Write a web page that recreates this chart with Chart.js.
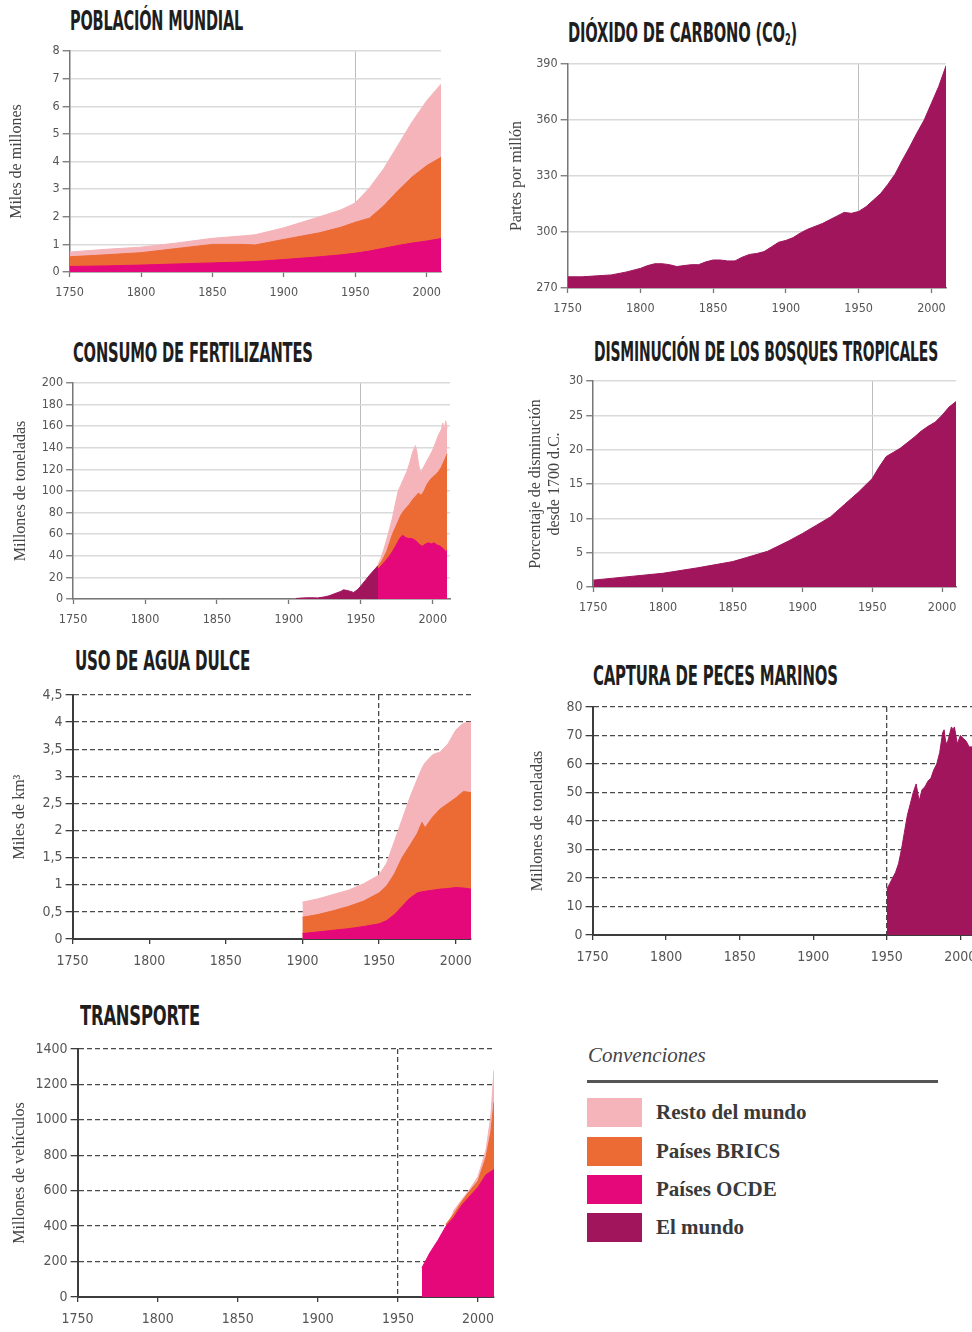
<!DOCTYPE html>
<html><head><meta charset="utf-8">
<script src="https://cdn.jsdelivr.net/npm/chart.js@4.4.1/dist/chart.umd.min.js"></script>
<style>
html,body{margin:0;padding:0;background:#fff;width:972px;height:1332px;overflow:hidden;position:relative}
.t{position:absolute;font-family:"Liberation Sans Narrow","DejaVu Sans Condensed",sans-serif;font-weight:bold;font-size:27px;line-height:27px;color:#1e1e1e;white-space:nowrap;transform-origin:0 0;letter-spacing:-0.3px}
.t sub{font-size:15px;line-height:0;vertical-align:-3px}
canvas{position:absolute}
#conv{position:absolute;left:588px;top:1045px;font-family:"Liberation Serif","DejaVu Serif",serif;font-style:italic;font-size:21px;line-height:21px;color:#444}
#rule{position:absolute;left:587px;top:1080px;width:351px;height:3px;background:#555}
.row{position:absolute;left:587px;height:29px;display:flex;align-items:center}
.sw{width:55px;height:29px;margin-right:14px}
.lt{font-family:"Liberation Serif","DejaVu Serif",serif;font-weight:bold;font-size:21px;color:#3a3a3a;white-space:nowrap}
</style></head>
<body>
<div class="t" data-w="173" style="left:70px;top:7px">POBLACIÓN MUNDIAL</div>
<div class="t" data-w="229" style="left:568px;top:19px">DIÓXIDO DE CARBONO (CO<sub>2</sub>)</div>
<div class="t" data-w="240" style="left:73px;top:339px">CONSUMO DE FERTILIZANTES</div>
<div class="t" data-w="344" style="left:594px;top:338px">DISMINUCIÓN DE LOS BOSQUES TROPICALES</div>
<div class="t" data-w="175" style="left:75px;top:647px">USO DE AGUA DULCE</div>
<div class="t" data-w="245" style="left:593px;top:662px">CAPTURA DE PECES MARINOS</div>
<div class="t" data-w="120" style="left:80px;top:1002px">TRANSPORTE</div>

<canvas id="c1"></canvas><canvas id="c2"></canvas><canvas id="c3"></canvas><canvas id="c4"></canvas>
<canvas id="c5"></canvas><canvas id="c6"></canvas><canvas id="c7"></canvas>

<div id="conv">Convenciones</div>
<div id="rule"></div>
<div id="legend"></div>

<script>
// ---------------- DATA ----------------
const xTicks = [1750, 1800, 1850, 1900, 1950, 2000];
const seriesNames = ['Resto del mundo', 'Países BRICS', 'Países OCDE', 'El mundo'];

// Población mundial (miles de millones) — cumulative tops
const popYears = [1750,1775,1800,1825,1850,1870,1880,1900,1925,1940,1950,1960,1970,1980,1990,2000,2010];
const popOCDE  = [0.20,0.22,0.25,0.29,0.33,0.36,0.38,0.45,0.55,0.62,0.68,0.76,0.86,0.96,1.05,1.12,1.21];
const popBRICS = [0.55,0.62,0.70,0.85,1.00,1.00,0.98,1.18,1.42,1.62,1.80,1.95,2.40,2.95,3.45,3.85,4.15];
const popResto = [0.72,0.82,0.90,1.05,1.22,1.30,1.35,1.60,2.00,2.25,2.50,3.05,3.75,4.60,5.45,6.20,6.80];
const popTicks = [0,1,2,3,4,5,6,7,8];

// Dióxido de carbono (ppm)
const co2Years = [1750,1760,1770,1780,1790,1800,1805,1810,1815,1820,1825,1830,1835,1840,1845,1850,1855,1860,1865,1870,1875,1880,1885,1890,1895,1900,1905,1910,1915,1920,1925,1930,1935,1940,1945,1950,1955,1960,1965,1970,1975,1980,1985,1990,1995,2000,2005,2010];
const co2World = [276,276,276.5,277,278.5,280.5,282,283,283,282.5,281.5,282,282.5,282.5,284,285,285,284.5,284.5,286.5,288,288.5,289.5,292,294.5,295.5,297,299.5,301.5,303,304.5,306.5,308.5,310.5,310,311,313.5,317,320.5,325.5,331,338.5,345.5,353,360,369,378,389];
const co2Ticks = [270,300,330,360,390];

// Consumo de fertilizantes (millones de toneladas) — cumulative tops
const fertMundoYears = [1905,1910,1915,1920,1925,1928,1930,1933,1936,1938,1940,1943,1945,1948,1950,1953,1956,1958,1960,1962];
const fertMundo      = [0.5,1,1.2,1,2,3,4,5.5,7,8.5,8,7,6,9,12,17,22,25,28,31];
const fertOCDEYears  = [1955,1958,1960,1963,1965,1967,1970,1972,1975,1977,1979,1981,1983,1985,1987,1989,1991,1993,1995,1997,1999,2001,2003,2005,2007,2009,2010];
const fertOCDE       = [18,23,26,29,32,35,40,44,51,56,59,57,56,56,55,53,50,49,51,52,51,52,50,49,47,44,45];
const fertBRICSYears = [1962,1965,1968,1970,1972,1974,1976,1978,1980,1982,1984,1986,1988,1990,1992,1994,1996,1998,2000,2002,2004,2006,2008,2010];
const fertBRICS      = [30,36,44,52,60,66,72,78,82,85,88,92,95,98,96,100,106,110,113,115,118,122,128,134];
const fertRestoYears = [1962,1964,1966,1968,1970,1972,1974,1976,1978,1980,1982,1984,1986,1988,1989,1990,1991,1992,1994,1996,1998,2000,2002,2004,2006,2007,2008,2009,2010];
const fertResto      = [32,38,46,55,65,75,88,100,106,112,118,126,136,142,136,126,119,118,123,128,133,138,145,152,157,163,156,165,158];
const fertTicks = [0,20,40,60,80,100,120,140,160,180,200];

// Disminución de los bosques tropicales (%)
const forYears = [1750,1775,1800,1825,1850,1860,1875,1890,1900,1910,1920,1930,1940,1950,1955,1960,1965,1970,1975,1980,1985,1990,1995,2000,2005,2010];
const forWorld = [1.0,1.5,2.0,2.8,3.7,4.3,5.2,6.7,7.8,9.0,10.2,12.0,13.8,15.8,17.5,19.0,19.6,20.2,21.0,21.8,22.7,23.4,24.0,25.0,26.2,27.0];
const forTicks = [0,5,10,15,20,25,30];

// Uso de agua dulce (miles de km³) — cumulative tops
const watYears = [1900,1910,1920,1930,1940,1950,1955,1960,1965,1970,1975,1978,1980,1985,1990,1995,2000,2005,2010];
const watOCDE  = [0.10,0.13,0.16,0.19,0.23,0.28,0.34,0.45,0.60,0.75,0.85,0.87,0.88,0.90,0.92,0.93,0.95,0.94,0.92];
const watBRICS = [0.40,0.45,0.52,0.60,0.70,0.85,0.98,1.20,1.50,1.72,1.95,2.15,2.05,2.25,2.40,2.50,2.60,2.72,2.70];
const watResto = [0.68,0.74,0.82,0.90,1.02,1.18,1.40,1.80,2.20,2.60,2.95,3.15,3.25,3.40,3.45,3.60,3.85,3.98,4.00];
const watTicks = [0,0.5,1,1.5,2,2.5,3,3.5,4,4.5];

// Captura de peces marinos (millones de toneladas)
const fishYears = [1950,1952,1954,1956,1958,1960,1962,1964,1966,1968,1970,1971,1972,1974,1976,1978,1980,1982,1984,1986,1988,1989,1990,1991,1992,1994,1995,1996,1998,2000,2002,2004,2006,2008,2010];
const fishWorld = [16,18,20,22,25,30,36,42,46,50,53,50,47,51,52,54,55,58,60,64,71,72,68,67,69,73,72,73,67,70,69,68,66,66,65];
const fishTicks = [0,10,20,30,40,50,60,70,80];

// Transporte (millones de vehículos) — cumulative tops
const trOCDEYears  = [1965,1970,1975,1980,1985,1990,1995,2000,2005,2010];
const trOCDE       = [165,250,320,400,450,520,570,620,690,720];
const trBRICSYears = [1980,1985,1990,1995,2000,2005,2008,2010];
const trBRICS      = [410,470,540,600,655,790,930,1100];
const trRestoYears = [1983,1985,1990,1995,2000,2005,2008,2010];
const trResto      = [440,490,550,610,680,830,1020,1280];
const trTicks = [0,200,400,600,800,1000,1200,1400];

// ---------------- STYLE ----------------
const COL = {resto:'#f5b4b9', brics:'#ec6a34', ocde:'#e5087b', mundo:'#a0155c'};
const TF = '"Liberation Sans Narrow","DejaVu Sans Condensed",sans-serif';
const SF = '"Liberation Serif","DejaVu Serif",serif';

const pts = (xs, ys) => xs.map((x, i) => ({x: x, y: ys[i]}));
const ds = (xs, ys, c) => ({data: pts(xs, ys), backgroundColor: c, borderColor: c, borderWidth: 1, fill: 'origin', pointRadius: 0, tension: 0});

function make(id, g, datasets, yMin, yMax, yTicks, yTitle, dashed, fmt) {
  const lh = 16 * 1.2;
  const nL = Array.isArray(yTitle) ? yTitle.length : 1;
  const padT = 13, padR = 18;
  const left = g.tx - lh * nL / 2;
  const top = g.T - padT;
  const yW = g.L - left;
  const xH = 36;
  const W = Math.round(g.R + padR - left), H = Math.round(g.B + xH - top);
  const cv = document.getElementById(id);
  cv.width = W; cv.height = H;
  cv.style.left = left + 'px'; cv.style.top = top + 'px';
  cv.style.width = W + 'px'; cv.style.height = H + 'px';
  const axisC = dashed ? '#3c3c3c' : '#777';
  const gridC = dashed ? '#4a4a4a' : '#dadada';
  const vC = dashed ? '#4a4a4a' : '#bdbdbd';
  const dash = dashed ? [5, 3] : [];
  const fs = dashed ? 14 : 12.5;
  new Chart(cv, {
    type: 'line',
    data: {datasets: datasets},
    options: {
      responsive: false, animation: false, devicePixelRatio: 1,
      layout: {padding: {top: padT, right: padR, left: 0, bottom: 0}},
      plugins: {legend: {display: false}, tooltip: {enabled: false}},
      scales: {
        x: {
          type: 'linear', min: 1750, max: g.xmax,
          afterBuildTicks: s => { s.ticks = xTicks.map(v => ({value: v})); },
          afterFit: s => { s.height = xH; },
          ticks: {padding: dashed ? 9 : 8, color: '#555', font: {family: TF, size: fs}, maxRotation: 0, autoSkip: false, callback: v => String(v)},
          grid: {color: c => (c.tick && c.tick.value === 1950) ? vC : 'rgba(0,0,0,0)', lineWidth: dashed ? 1.3 : 1, tickColor: axisC, tickLength: 5, tickWidth: 1.3},
          border: {display: true, color: axisC, width: dashed ? 2 : 1.5, dash: dash}
        },
        y: {
          min: yMin, max: yMax,
          afterBuildTicks: s => { s.ticks = yTicks.map(v => ({value: v})); },
          afterFit: s => { s.width = yW; },
          ticks: {padding: 3, color: '#555', font: {family: TF, size: fs}, callback: fmt || (v => String(v))},
          grid: {color: gridC, lineWidth: dashed ? 1.3 : 1.5, tickColor: axisC, tickLength: 7, tickWidth: 1.3},
          border: {display: true, color: axisC, width: dashed ? 2 : 1.5, dash: dash},
          title: {display: true, text: yTitle, color: '#444', font: {family: SF, size: 16}, padding: 0}
        }
      }
    }
  });
}

make('c1', {L:70, R:441, T:51, B:272, tx:17, xmax:2010}, [
  ds(popYears, popOCDE, COL.ocde), ds(popYears, popBRICS, COL.brics), ds(popYears, popResto, COL.resto)
], 0, 8, popTicks, 'Miles de millones', false);

make('c2', {L:568, R:946.6, T:64, B:288, tx:517, xmax:2010}, [
  ds(co2Years, co2World, COL.mundo)
], 270, 390, co2Ticks, 'Partes por millón', false);

make('c3', {L:73, R:450, T:383, B:599, tx:20.5, xmax:2012}, [
  ds(fertMundoYears, fertMundo, COL.mundo), ds(fertOCDEYears, fertOCDE, COL.ocde),
  ds(fertBRICSYears, fertBRICS, COL.brics), ds(fertRestoYears, fertResto, COL.resto)
], 0, 200, fertTicks, 'Millones de toneladas', false);

make('c4', {L:593, R:956, T:381, B:587, tx:545, xmax:2010}, [
  ds(forYears, forWorld, COL.mundo)
], 0, 30, forTicks, ['Porcentaje de disminución', 'desde 1700 d.C.'], false);

make('c5', {L:73, R:471, T:695, B:939, tx:20, xmax:2010}, [
  ds(watYears, watOCDE, COL.ocde), ds(watYears, watBRICS, COL.brics), ds(watYears, watResto, COL.resto)
], 0, 4.5, watTicks, 'Miles de km³', true, v => String(v).replace('.', ','));

make('c6', {L:593, R:975, T:707, B:935, tx:538, xmax:2010}, [
  ds(fishYears, fishWorld, COL.mundo)
], 0, 80, fishTicks, 'Millones de toneladas', true);

make('c7', {L:78, R:494, T:1049, B:1297, tx:20, xmax:2010}, [
  ds(trOCDEYears, trOCDE, COL.ocde), ds(trBRICSYears, trBRICS, COL.brics), ds(trRestoYears, trResto, COL.resto)
], 0, 1400, trTicks, 'Millones de vehículos', true);

// titles: condense to reference widths
document.querySelectorAll('.t').forEach(el => {
  const s = (+el.dataset.w) / el.offsetWidth;
  el.style.transform = 'scaleX(' + s + ')';
});

// legend
const legCols = [COL.resto, COL.brics, COL.ocde, COL.mundo];
const legTops = [1098, 1136.5, 1175, 1213];
const lg = document.getElementById('legend');
seriesNames.forEach((n, i) => {
  const r = document.createElement('div');
  r.className = 'row'; r.style.top = legTops[i] + 'px';
  r.innerHTML = '<div class="sw" style="background:' + legCols[i] + '"></div><div class="lt">' + n + '</div>';
  lg.appendChild(r);
});
</script>
</body></html>
